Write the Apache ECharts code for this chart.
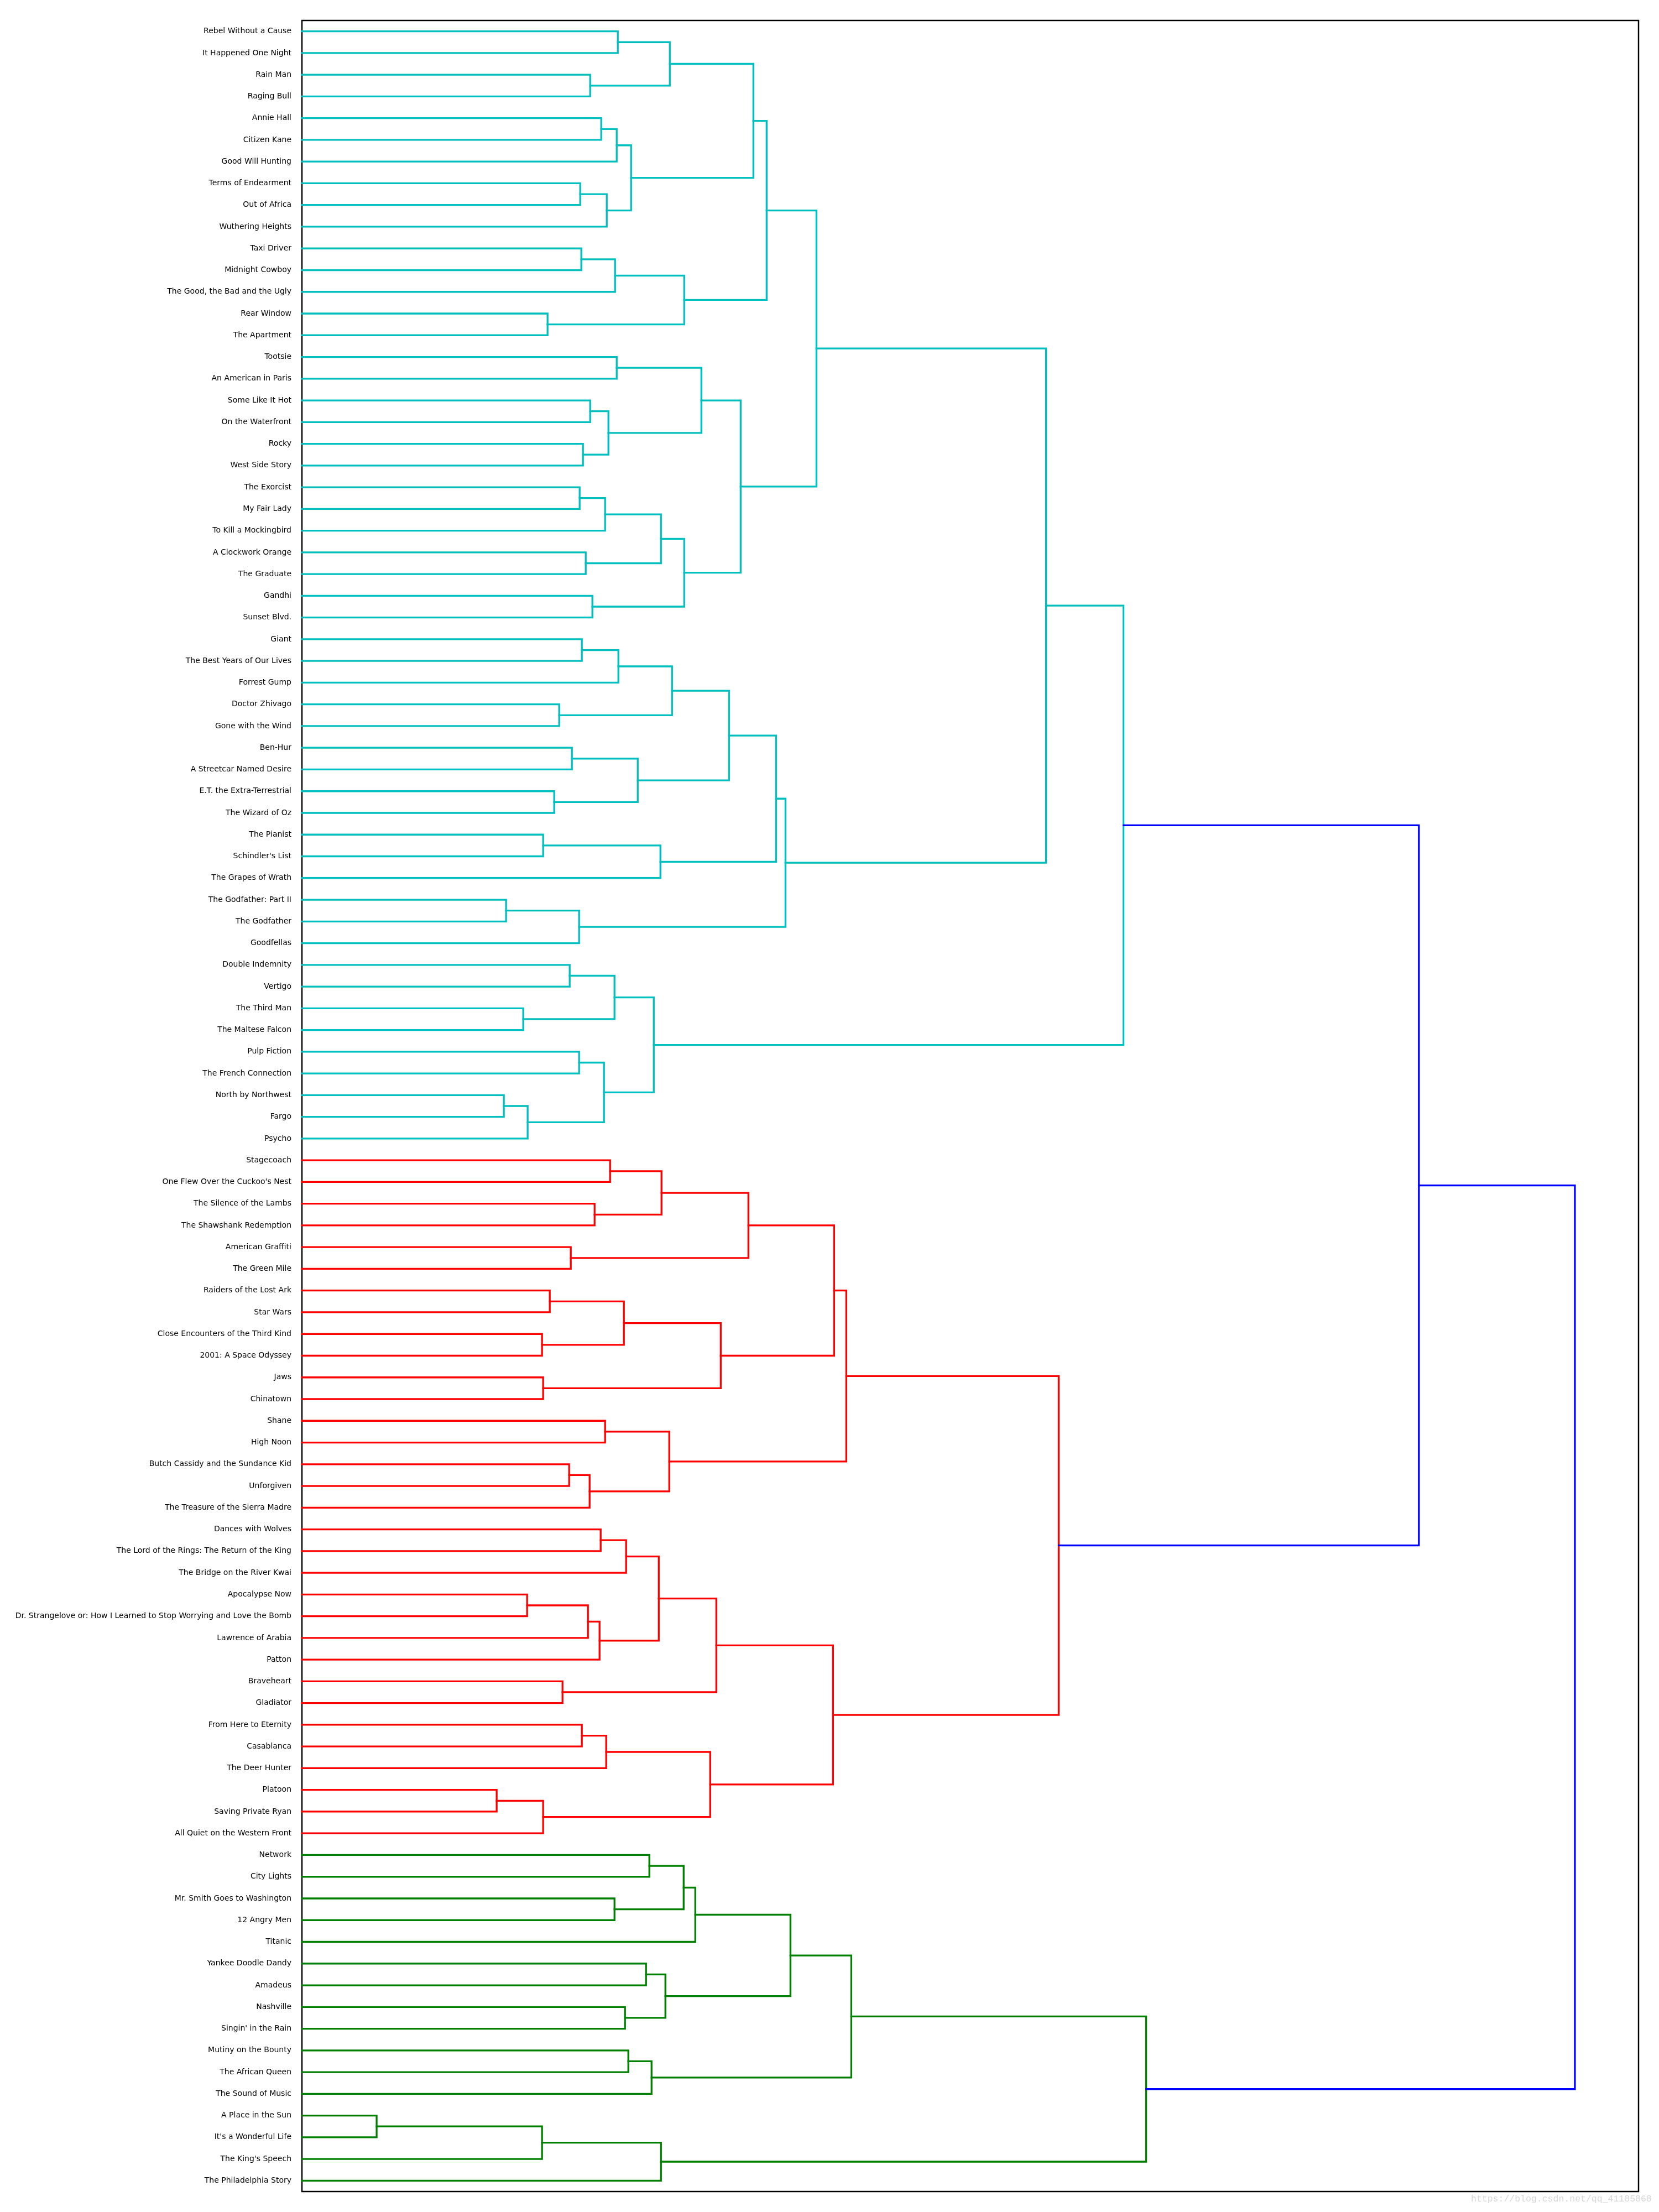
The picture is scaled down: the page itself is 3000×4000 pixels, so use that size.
<!DOCTYPE html>
<html>
<head>
<meta charset="utf-8">
<script src="https://cdn.jsdelivr.net/npm/echarts@6/dist/echarts.min.js"></script>
<style>
html,body{margin:0;padding:0;background:#ffffff;}
#chart{width:3000px;height:4000px;}
</style>
</head>
<body>
<div id="chart"></div>
<script>
// Leaf labels, top to bottom
const leafLabels = [
  "Rebel Without a Cause","It Happened One Night","Rain Man","Raging Bull","Annie Hall",
  "Citizen Kane","Good Will Hunting","Terms of Endearment","Out of Africa","Wuthering Heights",
  "Taxi Driver","Midnight Cowboy","The Good, the Bad and the Ugly","Rear Window","The Apartment",
  "Tootsie","An American in Paris","Some Like It Hot","On the Waterfront","Rocky",
  "West Side Story","The Exorcist","My Fair Lady","To Kill a Mockingbird","A Clockwork Orange",
  "The Graduate","Gandhi","Sunset Blvd.","Giant","The Best Years of Our Lives",
  "Forrest Gump","Doctor Zhivago","Gone with the Wind","Ben-Hur","A Streetcar Named Desire",
  "E.T. the Extra-Terrestrial","The Wizard of Oz","The Pianist","Schindler's List","The Grapes of Wrath",
  "The Godfather: Part II","The Godfather","Goodfellas","Double Indemnity","Vertigo",
  "The Third Man","The Maltese Falcon","Pulp Fiction","The French Connection","North by Northwest",
  "Fargo","Psycho","Stagecoach","One Flew Over the Cuckoo's Nest","The Silence of the Lambs",
  "The Shawshank Redemption","American Graffiti","The Green Mile","Raiders of the Lost Ark","Star Wars",
  "Close Encounters of the Third Kind","2001: A Space Odyssey","Jaws","Chinatown","Shane",
  "High Noon","Butch Cassidy and the Sundance Kid","Unforgiven","The Treasure of the Sierra Madre","Dances with Wolves",
  "The Lord of the Rings: The Return of the King","The Bridge on the River Kwai","Apocalypse Now","Dr. Strangelove or: How I Learned to Stop Worrying and Love the Bomb","Lawrence of Arabia",
  "Patton","Braveheart","Gladiator","From Here to Eternity","Casablanca",
  "The Deer Hunter","Platoon","Saving Private Ryan","All Quiet on the Western Front","Network",
  "City Lights","Mr. Smith Goes to Washington","12 Angry Men","Titanic","Yankee Doodle Dandy",
  "Amadeus","Nashville","Singin' in the Rain","Mutiny on the Bounty","The African Queen",
  "The Sound of Music","A Place in the Sun","It's a Wonderful Life","The King's Speech","The Philadelphia Story"
];

// Merges: [node name, child A, child B, merge distance]
// a number child = leaf index (0-based, top to bottom); a string child = earlier node
const merges = [
  ["A",0,1,571],["B",2,3,521],["C","A","B",665],["D",4,5,541],["E","D",6,569],
  ["F",7,8,503],["G","F",9,551],["H","E","G",595],["I","C","H",816],["J",10,11,505],
  ["K","J",12,566],["L",13,14,444],["M","K","L",691],["N","I","M",840],["P",15,16,569],
  ["Q",17,18,521],["R",19,20,508],["S","Q","R",554],["T","P","S",722],["U",21,22,502],
  ["V","U",23,548],["W",24,25,513],["X1","V","W",649],["Y",26,27,525],["Z","X1","Y",691],
  ["AA","T","Z",793],["O","N","AA",930],["BB",28,29,506],["CC","BB",30,572],["DD",31,32,465],
  ["EE","CC","DD",669],["HH",33,34,488],["II",35,36,456],["JJ","HH","II",607],["FF","EE","JJ",772],
  ["KK",37,38,436],["LL","KK",39,648],["GG","FF","LL",857],["MM",40,41,369],["NN","MM",42,501],
  ["OO","GG","NN",874],["XX","O","OO",1345],["PP",43,44,484],["QQ",45,46,400],["RR","PP","QQ",565],
  ["SS",47,48,501],["TT",49,50,365],["UU","TT",51,408],["VV","SS","UU",546],["WW","RR","VV",636],
  ["YY","XX","WW",1485],
  ["a",52,53,557],["b",54,55,529],["c","a","b",650],["d",56,57,486],["e","c","d",807],
  ["f",58,59,448],["g",60,61,434],["h","f","g",582],["i",62,63,436],["j","h","i",757],
  ["k","e","j",962],["l",64,65,548],["m",66,67,483],["n","m",68,520],["o","l","n",664],
  ["p","k","o",984],["q",69,70,540],["r","q",71,586],["s",72,73,407],["t","s",74,517],
  ["u","t",75,538],["v","r","u",645],["w",76,77,471],["x","v","w",749],["y",78,79,506],
  ["z","y",80,550],["aa",81,82,352],["bb","aa",83,436],["cc","z","bb",738],["dd","x","cc",960],
  ["ee","p","dd",1368],
  ["ff",84,85,628],["gg",86,87,565],["hh","ff","gg",690],["ii","hh",88,711],["jj",89,90,622],
  ["kk",91,92,584],["ll","jj","kk",657],["mm","ii","ll",883],["nn",93,94,590],["oo","nn",95,632],
  ["pp","mm","oo",993],["qq",96,97,135],["rr","qq",98,434],["ss","rr",99,649],["tt","pp","ss",1526],
  ["uu","YY","ee",2019],["root","uu","tt",2301]
];

// Styling (kept separate from data)
const clusterPalette = ['#008000', '#ff0000', '#00bfbf', '#bf00bf', '#bfbf00', '#000000'];
const aboveColor = '#0000ff';
const LINE_W = 3.3;

// Build tree
const nodes = {};
function getChild(ref) {
  if (typeof ref === 'number') return { h: 0, y: 5 + 10 * ref, leaves: [ref] };
  return nodes[ref];
}
merges.forEach(([name, a, b, h]) => {
  const ca = getChild(a), cb = getChild(b);
  nodes[name] = { name, h, a: ca, b: cb, y: (ca.y + cb.y) / 2, leaves: ca.leaves.concat(cb.leaves) };
});
const rootNode = nodes[merges[merges.length - 1][0]];
const threshold = 0.7 * rootNode.h;

// Clusters (scipy-style colouring)
const clusterRoots = [];
function findClusters(n) {
  if (!n.a) return;
  if (n.h < threshold) { clusterRoots.push(n); return; }
  findClusters(n.a); findClusters(n.b);
}
findClusters(rootNode);
clusterRoots.sort((p, q) => Math.max(...q.leaves) - Math.max(...p.leaves));
function paint(n, c) { if (!n.a) return; n.color = c; paint(n.a, c); paint(n.b, c); }
clusterRoots.forEach((n, i) => paint(n, clusterPalette[i % clusterPalette.length]));

const linkData = merges.map(([name]) => {
  const n = nodes[name];
  return {
    coords: [[n.a.h, n.a.y], [n.h, n.a.y], [n.h, n.b.y], [n.b.h, n.b.y]],
    lineStyle: { color: n.color || aboveColor }
  };
});

const chart = echarts.init(document.getElementById('chart'), null, { renderer: 'canvas' });
chart.setOption({
  animation: false,
  backgroundColor: '#ffffff',
  grid: {
    left: 546, top: 37, width: 2417, height: 3926,
    show: true, borderColor: '#000000', borderWidth: 2.5, backgroundColor: 'transparent',
    containLabel: false, outerBoundsMode: 'none'
  },
  xAxis: {
    type: 'value', min: 0, max: rootNode.h * 1.05,
    axisLine: { show: false }, axisTick: { show: false }, axisLabel: { show: false }, splitLine: { show: false }
  },
  yAxis: [
    {
      type: 'category', data: leafLabels, inverse: true,
      axisLine: { show: false }, axisTick: { show: false }, splitLine: { show: false },
      axisLabel: { interval: 0, margin: 19, fontSize: 14, fontFamily: 'DejaVu Sans', color: '#000000', padding: [4, 0, 0, 0] }
    },
    {
      type: 'value', min: 0, max: 1000, inverse: true, show: false,
      splitLine: { show: false }
    }
  ],
  series: [{
    type: 'lines',
    coordinateSystem: 'cartesian2d',
    xAxisIndex: 0, yAxisIndex: 1,
    polyline: true,
    silent: true,
    lineStyle: { width: LINE_W, opacity: 1, join: 'miter', cap: 'square' },
    data: linkData
  }],
  graphic: [{
    type: 'text', left: 2660, top: 3968,
    style: { text: 'https://blog.csdn.net/qq_41185868', fill: '#d6d6d6', font: '16.5px "Liberation Mono"' }
  }]
});
</script>
</body>
</html>
